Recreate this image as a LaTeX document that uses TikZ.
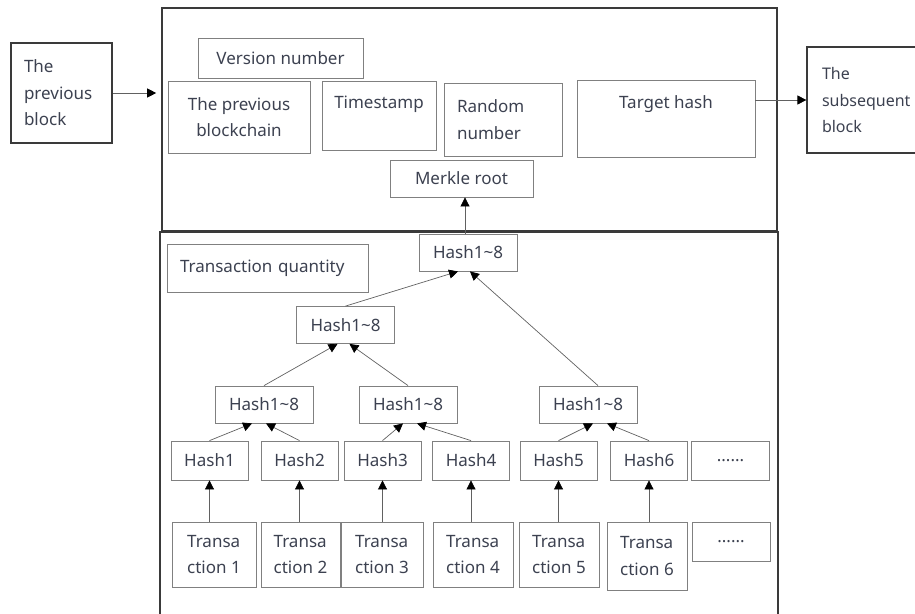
\documentclass[tikz,border=0pt]{standalone}
\usepackage{fontspec}
\setmainfont{Noto Sans}
\usepackage{tikz}
\usetikzlibrary{arrows.meta,positioning}
\definecolor{txt}{HTML}{3C4150}
\definecolor{edge}{HTML}{808080}
\definecolor{frame}{HTML}{3A3A3A}

\begin{document}
\begin{tikzpicture}[x=1pt,y=-1pt]
        \tikzstyle{every node} = [font=\fontsize{17}{26.5}\selectfont, text=txt, inner sep=0pt]
        \tikzstyle{box} = [draw=edge, line width=0.8pt, align=center]
        \tikzstyle{leftbox} = [box, align=left]
        \tikzstyle{blockbox} = [draw=frame, line width=1.2pt, align=left]
        \tikzstyle{bigbox} = [draw=frame, line width=1.6pt]
        \tikzstyle{hashbox} = [box, minimum width=77pt, minimum height=39pt]
        \tikzstyle{mergebox} = [box, minimum width=98pt, minimum height=37pt]
        \tikzstyle{txbox} = [leftbox, minimum height=65pt]
        \tikzstyle{arr} = [draw=frame!80, line width=0.7pt, -{Triangle[length=9pt,width=9pt,color=black]}]

        \useasboundingbox (0,0) rectangle (915,613);

        % the two frames of the block
        \node[bigbox, minimum width=615pt, minimum height=223pt](header) at (469.5,119.5){};
        \node[bigbox, minimum width=618pt, minimum height=393pt](body) at (469,428.5){};

        % neighbouring blocks
        \node[blockbox, inner xsep=13pt, text width=75pt, minimum height=100pt](prev) at (61.5,93){The\\previous\\block};
        \node[blockbox, inner xsep=15pt, text width=110pt, minimum height=106pt, font=\fontsize{16}{26.5}\selectfont](next) at (877,100){The\\subsequent\\block};

        % block header
        \node[box, minimum width=165pt, minimum height=40pt](version) at (280.5,58){Version number};
        \node[box, minimum width=142pt, minimum height=72pt](prevchain) at (239,117){The previous\\blockchain};
        \node[box, minimum width=114pt, text height=27pt, text depth=42pt](timestamp) at (379,115.5){Timestamp};
        \node[leftbox, inner xsep=13pt, text width=92pt, minimum height=73pt](random) at (503,119.5){Random\\number};
        \node[box, minimum width=178pt, text height=28pt, text depth=49pt](target) at (666,118.5){Target hash};
        \node[box, minimum width=143pt, minimum height=37pt](merkle) at (461.5,178.5){Merkle root};

        % block body
        \node[leftbox, inner xsep=13pt, text width=175pt, minimum height=48pt](txqty) at (267.5,268){Transaction quantity};
        \node[mergebox](h0) at (468,252.5){Hash1\textasciitilde 8};
        \node[mergebox](hm) at (345.5,325){Hash1\textasciitilde 8};
        \node[mergebox](ha) at (264,404.5){Hash1\textasciitilde 8};
        \node[mergebox](hb) at (408,404.5){Hash1\textasciitilde 8};
        \node[mergebox](hc) at (588,404.5){Hash1\textasciitilde 8};

        \node[hashbox](h1) at (209.5,460.5){Hash1};
        \node[hashbox](h2) at (299.5,460.5){Hash2};
        \node[hashbox](h3) at (382.5,460.5){Hash3};
        \node[hashbox](h4) at (471,460.5){Hash4};
        \node[hashbox](h5) at (558.5,460.5){Hash5};
        \node[hashbox](h6) at (649,460.5){Hash6};
        \node[hashbox, minimum width=78pt](hdots) at (730.5,460.5){......};

        \node[txbox, minimum width=84pt](t1) at (214,554.5){Transa\\ction 1};
        \node[txbox, minimum width=79pt](t2) at (300.5,554.5){Transa\\ction 2};
        \node[txbox, minimum width=82pt](t3) at (382,554.5){Transa\\ction 3};
        \node[txbox, minimum width=80pt](t4) at (473,554.5){Transa\\ction 4};
        \node[txbox, minimum width=80pt](t5) at (559,554.5){Transa\\ction 5};
        \node[txbox, minimum width=80pt, minimum height=68pt](t6) at (647,556){Transa\\ction 6};
        \node[box, minimum width=78pt, minimum height=39pt](tdots) at (731,541.5){......};

        % chain links
        \draw[arr, shorten >=5pt] (prev.east) -- (prev.east -| header.west);
        \draw[arr] (target.east |- next.west) -- (next.west);
        \draw[arr] ([xshift=-3pt]h0.north) -- ([xshift=-3pt]h0.north |- merkle.south);

        % merkle tree
        \draw[arr] (hm.north) -- ([xshift=-10pt]h0.south);
        \draw[arr] ([xshift=10pt]hc.north) -- ([xshift=2pt]h0.south);
        \draw[arr] (ha.north) -- ([xshift=-8pt]hm.south);
        \draw[arr] (hb.north) -- ([xshift=4pt]hm.south);
        \draw[arr] (h1.north) -- ([xshift=-12pt]ha.south);
        \draw[arr] (h2.north) -- ([xshift=2pt]ha.south);
        \draw[arr] (h3.north) -- ([xshift=-5pt]hb.south);
        \draw[arr] (h4.north) -- ([xshift=9pt]hb.south);
        \draw[arr] (h5.north) -- ([xshift=5pt]hc.south);
        \draw[arr] (h6.north) -- ([xshift=19pt]hc.south);

        \draw[arr] (t1.north -| h1.south) -- (h1.south);
        \draw[arr] (t2.north -| h2.south) -- (h2.south);
        \draw[arr] (t3.north -| h3.south) -- (h3.south);
        \draw[arr] (t4.north -| h4.south) -- (h4.south);
        \draw[arr] (t5.north -| h5.south) -- (h5.south);
        \draw[arr] (t6.north -| h6.south) -- (h6.south);
\end{tikzpicture}
\end{document}
